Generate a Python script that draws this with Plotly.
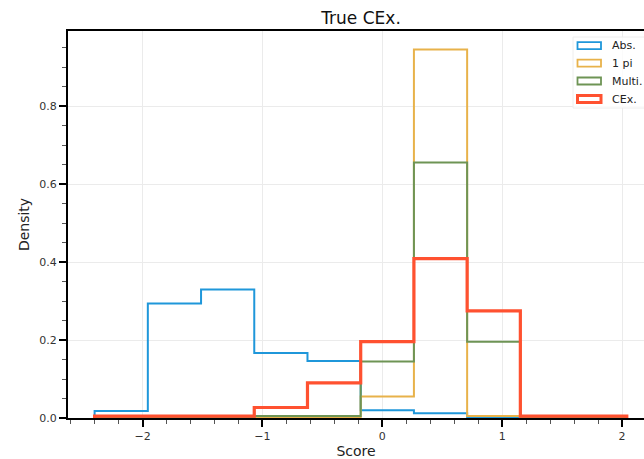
import plotly.graph_objects as go

# ---- data ----
bin_edges = [-2.4, -1.956, -1.512, -1.068, -0.624, -0.18, 0.264, 0.708, 1.152, 1.596, 2.04]
abs_vals = [0.018, 0.294, 0.330, 0.167, 0.146, 0.020, 0.012, 0.0, 0.0, 0.0]
onepi_vals = [0.0, 0.0, 0.0, 0.0, 0.0, 0.055, 0.946, 0.005, 0.0, 0.0]
multi_vals = [0.003, 0.003, 0.003, 0.005, 0.005, 0.145, 0.656, 0.196, 0.003, 0.003]
cex_vals = [0.005, 0.005, 0.005, 0.027, 0.090, 0.196, 0.409, 0.275, 0.005, 0.005]
series_names = ["Abs.", "1 pi", "Multi.", "CEx."]
series_colors = ["#1f97da", "#e8b24a", "#6e9455", "#ff5130"]
series_widths = [2, 2, 2, 3.2]

series_vals = [abs_vals, onepi_vals, multi_vals, cex_vals]

# figure geometry (pixels)
W, H = 644, 459
L, R, T, B = 68, 0, 31, 41
pw, ph = W - L - R, H - T - B


def px_x(p):
    return (p - L) / pw


def px_y(p):
    return (H - B - p) / ph


fig = go.Figure()
for name, vals, col, lw in zip(series_names, series_vals, series_colors, series_widths):
    xs = [bin_edges[0]] + list(bin_edges)
    ys = [0.0] + list(vals) + [0.0]
    fig.add_trace(go.Scatter(x=xs, y=ys, mode="lines", line=dict(color=col, width=lw, shape="hv"),
                             name=name, showlegend=False, hoverinfo="skip"))

ymax = max(max(v) for v in series_vals) * 1.05
span = bin_edges[-1] - bin_edges[0]
xmin = bin_edges[0] - 0.05 * span
xmax_full = bin_edges[-1] + 0.05 * span
# visible right edge is cut by the canvas
xmax_vis = xmin + (xmax_full - xmin) * pw / (653.4 - L)

shapes = []
annotations = []
# legend frame
shapes.append(dict(type="rect", xref="paper", yref="paper", x0=px_x(573), x1=px_x(650),
                   y0=px_y(108), y1=px_y(37), line=dict(color="#eeeeee", width=1),
                   fillcolor="rgba(255,255,255,0.8)", layer="above"))
centers = [45.7, 63.2, 81.0, 99.0]
for name, col, lw, cy in zip(series_names, series_colors, series_widths, centers):
    shapes.append(dict(type="rect", xref="paper", yref="paper", x0=px_x(577.5), x1=px_x(601),
                       y0=px_y(cy + 3.5), y1=px_y(cy - 3.5), line=dict(color=col, width=lw - 0.2),
                       fillcolor="rgba(0,0,0,0)", layer="above"))
    annotations.append(dict(text=name, xref="paper", yref="paper", x=px_x(610), y=px_y(cy),
                            xanchor="left", yanchor="middle", showarrow=False,
                            font=dict(size=11, color="#222")))

fig.update_layout(
    width=W, height=H,
    margin=dict(l=L, r=R, t=T, b=B, pad=0),
    paper_bgcolor="white", plot_bgcolor="white",
    font=dict(family="DejaVu Sans", color="#222"),
    title=dict(text="True CEx.", x=px_x(361), xref="paper", xanchor="center",
               y=1 - 18 / H, yref="container", yanchor="middle",
               font=dict(size=17, color="#111")),
    shapes=shapes, annotations=annotations,
    showlegend=False,
)
fig.update_xaxes(
    range=[xmin, xmax_vis], showline=True, linecolor="black", linewidth=2, mirror=True,
    ticks="outside", ticklen=7, tickwidth=2, tickcolor="black",
    tickvals=[-2, -1, 0, 1, 2], ticktext=["\u22122", "\u22121", "0", "1", "2"],
    tickfont=dict(size=11, color="#333"),
    showgrid=True, gridcolor="#ebebeb", gridwidth=1, zeroline=False,
    minor=dict(dtick=0.2, tick0=0, ticks="outside", ticklen=4, tickwidth=1, tickcolor="#555", showgrid=False),
    title=dict(text="Score", font=dict(size=14, color="#222"), standoff=4),
)
fig.update_yaxes(
    range=[0, ymax], showline=True, linecolor="black", linewidth=2,
    ticks="outside", ticklen=7, tickwidth=2, tickcolor="black",
    tickvals=[0, 0.2, 0.4, 0.6, 0.8], ticktext=["0.0", "0.2", "0.4", "0.6", "0.8"],
    tickfont=dict(size=11, color="#333"),
    showgrid=True, gridcolor="#ebebeb", gridwidth=1, zeroline=False,
    minor=dict(dtick=0.05, tick0=0, ticks="outside", ticklen=4, tickwidth=1, tickcolor="#555", showgrid=False),
    title=dict(text="Density", font=dict(size=14, color="#222"), standoff=6),
)

fig.write_html("out.html")
